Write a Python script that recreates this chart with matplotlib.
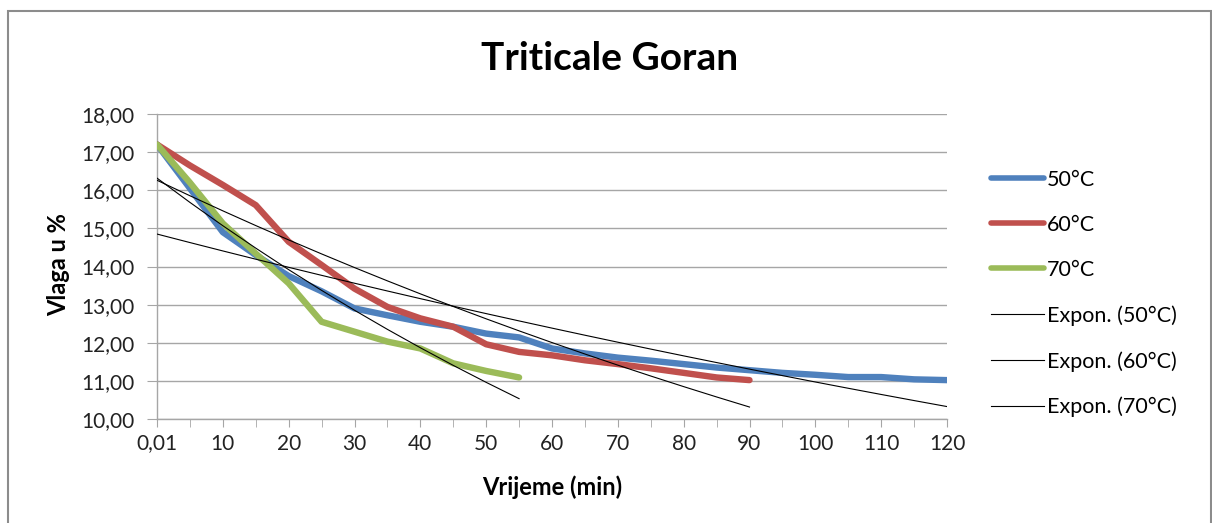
import numpy as np
import matplotlib
matplotlib.use('Agg')
import matplotlib.pyplot as plt
from matplotlib.patches import Rectangle
from matplotlib.ticker import FuncFormatter, FixedLocator

plt.rcParams['font.family'] = ['Lato', 'DejaVu Sans']

# time categories (min), first one is shown as 0,01
times = [0.01] + list(range(5, 125, 5))
tick_labels = ['0,01'] + [str(t) for t in range(10, 130, 10)]

moist_50 = [17.20, 16.05, 14.90, 14.30, 13.75, 13.35, 12.90, 12.72, 12.55, 12.42,
            12.24, 12.14, 11.85, 11.72, 11.61, 11.53, 11.44, 11.35, 11.28, 11.21,
            11.16, 11.10, 11.10, 11.04, 11.02]
moist_60 = [17.20, 16.65, 16.14, 15.61, 14.65, 14.04, 13.42, 12.94, 12.64, 12.42,
            11.96, 11.76, 11.67, 11.54, 11.44, 11.33, 11.21, 11.09, 11.02]
moist_70 = [17.20, 16.20, 15.13, 14.34, 13.56, 12.55, 12.29, 12.03, 11.85, 11.46,
            11.26, 11.09]

series = [
    ('50°C', moist_50, '#4F81BD'),
    ('60°C', moist_60, '#C0504D'),
    ('70°C', moist_70, '#9BBB59'),
]

W, H = 1212, 523
fig = plt.figure(figsize=(W / 100, H / 100), dpi=100)
fig.patch.set_facecolor('white')

# chart frame
fig.patches.append(Rectangle((8 / W, -0.1), (1211 - 8) / W, (H - 11) / H + 0.1,
                             transform=fig.transFigure, fill=False,
                             edgecolor='#8c8c8c', linewidth=1.5))

ax = fig.add_axes([157 / W, 1 - 419 / H, (947 - 157) / W, (419 - 114) / H])

handles = []
for name, vals, col in series:
    x = np.arange(len(vals))
    h, = ax.plot(x, vals, color=col, linewidth=4.6, solid_capstyle='round',
                 solid_joinstyle='round', label=name, zorder=3)
    handles.append(h)

# exponential trendlines, Excel style (x = 1..n)
for name, vals, col in series:
    xi = np.arange(1, len(vals) + 1)
    b, ln_a = np.polyfit(xi, np.log(vals), 1)
    fit = np.exp(ln_a) * np.exp(b * xi)
    h, = ax.plot(xi - 1, fit, color='black', linewidth=0.8,
                 label=f'Expon. ({name})', zorder=4)
    handles.append(h)

ax.set_xlim(0, len(times) - 1)
ax.set_ylim(10, 18)
ax.xaxis.set_major_locator(FixedLocator(np.arange(0, len(times), 2)))
ax.xaxis.set_minor_locator(FixedLocator(np.arange(0, len(times))))
ax.set_xticklabels(tick_labels)
ax.set_yticks(np.arange(10, 19, 1))
ax.yaxis.set_major_formatter(FuncFormatter(lambda v, p: f'{v:.2f}'.replace('.', ',')))

ax.grid(axis='y', color='#a6a6a6', linewidth=1.0, zorder=0)
for s in ['top', 'right']:
    ax.spines[s].set_visible(False)
for s in ['left', 'bottom']:
    ax.spines[s].set_color('#a6a6a6')
    ax.spines[s].set_linewidth(1.0)
ax.tick_params(axis='both', which='both', color='#a6a6a6', direction='out',
               labelsize=15, labelcolor='#222222')
ax.tick_params(axis='x', which='both', length=5.5, pad=5)
ax.tick_params(axis='y', length=7, pad=9)

ax.set_xlabel('Vrijeme (min)', fontsize=17, fontweight='bold')
ax.set_ylabel('Vlaga u %', fontsize=17, fontweight='bold')
ax.xaxis.set_label_coords((552 - 157) / 790, (419 - 475) / 305)
ax.yaxis.set_label_coords((70 - 157) / 790, (419 - 265) / 305)
fig.text(610 / W, 1 - 58 / H, 'Triticale Goran', fontsize=28, fontweight='bold',
         ha='center', va='center')

leg = fig.legend(handles=handles, loc='upper left',
                 bbox_to_anchor=(982 / W, 1 - 161 / H), frameon=False,
                 fontsize=15.5, handlelength=2.5, handletextpad=0.1,
                 labelspacing=1.17, borderaxespad=0)
for lh in leg.get_lines()[:3]:
    lh.set_linewidth(4.0)

fig.savefig('out.png', dpi=100)
